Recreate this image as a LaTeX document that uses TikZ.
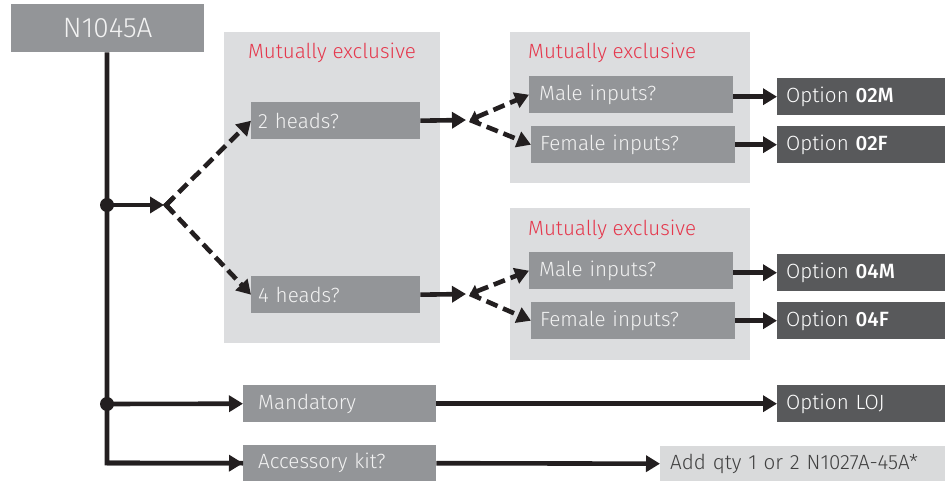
\documentclass[tikz,border=0pt]{standalone}
\usepackage{fontspec}
\setmainfont{Fira Sans}[UprightFont={* Light}, BoldFont={* Medium}]
\usetikzlibrary{arrows.meta,calc}
\definecolor{boxgrey}{HTML}{939598}
\definecolor{contgrey}{HTML}{DCDDDF}
\definecolor{darkopt}{HTML}{58595B}
\definecolor{mxred}{HTML}{E5384D}
\definecolor{linecol}{HTML}{231F20}
\definecolor{addgrey}{HTML}{D9DADB}
\definecolor{addtext}{HTML}{404040}
\tikzset{
  cont/.style={fill=contgrey, draw=none},
  qbox/.style={fill=boxgrey, text=white!95!black, anchor=north west, minimum height=37pt,
    inner ysep=0pt, align=left, font=\fontsize{20.6}{24}\selectfont},
  obox/.style={fill=darkopt, text=white, anchor=north west, minimum height=37pt,
    inner ysep=0pt, align=left, font=\fontsize{20.6}{24}\selectfont},
  mxlabel/.style={text=mxred, font=\fontsize{20.6}{24}\selectfont, inner sep=0pt},
  conn/.style={draw=linecol, line width=4.6pt, -{Triangle[length=14pt,width=16pt]}},
  dconn/.style={draw=linecol, line width=4.6pt, dash pattern=on 12pt off 6pt, -{Triangle[length=14pt,width=16pt]}},
  trunk/.style={draw=linecol, line width=4.6pt},
  jdot/.style={circle, fill=linecol, inner sep=0pt, minimum size=14pt},
}
\begin{document}
\begin{tikzpicture}[x=1pt,y=-1pt]
\useasboundingbox (0,0) rectangle (951,481);
% containers
\fill[cont] (224,32) rectangle (440,343);
\fill[cont] (510,32) rectangle (750,183);
\fill[cont] (510,208) rectangle (750,360);
\node[mxlabel, anchor=base] (mx1) at (332,59) {Mutually exclusive};
\node[mxlabel, anchor=base west] (mx2) at (528,59) {Mutually exclusive};
\node[mxlabel, anchor=base west] (mx3) at (528,236) {Mutually exclusive};
% top node
\node[fill=boxgrey, text=white!95!black, anchor=north west, minimum width=193pt, minimum height=48pt,
  inner sep=0pt, font=\fontsize{28}{32}\selectfont] (top) at (11,4) {N1045A};
% question boxes
\node[qbox, inner xsep=7pt, text width=155pt] (h2) at (251,102) {2 heads?};
\node[qbox, inner xsep=7pt, text width=155pt] (h4) at (251,276) {4 heads?};
\node[qbox, inner xsep=10pt, text width=184pt] (m2) at (529,76) {Male inputs?};
\node[qbox, inner xsep=9pt, text width=186pt] (f2) at (531,126) {Female inputs?};
\node[qbox, inner xsep=10pt, text width=184pt] (m4) at (529,252) {Male inputs?};
\node[qbox, inner xsep=9pt, text width=186pt] (f4) at (531,302) {Female inputs?};
\node[qbox, inner xsep=15pt, text width=163pt] (mand) at (243,385) {Mandatory};
\node[qbox, inner xsep=15pt, text width=163pt, minimum height=36pt] (acc) at (243,445) {Accessory kit?};
% option boxes
\node[obox, inner xsep=9pt, text width=150pt] (o2m) at (777,78) {Option \textbf{02M}};
\node[obox, inner xsep=9pt, text width=150pt] (o2f) at (777,126) {Option \textbf{02F}};
\node[obox, inner xsep=9pt, text width=150pt] (o4m) at (777,254) {Option \textbf{04M}};
\node[obox, inner xsep=9pt, text width=150pt] (o4f) at (777,302) {Option \textbf{04F}};
\node[obox, inner xsep=9pt, text width=150pt] (loj) at (777,385) {Option LOJ};
\node[fill=addgrey, text=addtext, anchor=north west, minimum height=35pt, inner ysep=0pt,
  inner xsep=10pt, text width=265pt, align=left, font=\fontsize{20.6}{24}\selectfont] (add) at (660,446) {Add qty 1 or 2 N1027A-45A*};
% junctions
\coordinate (j1) at (107,205);
\coordinate (j2) at (107,404);
\coordinate (j3) at (107,463);
\coordinate (v1) at (166,205);
\coordinate (v2) at (470,120);
\coordinate (v4) at (470,294);
\coordinate (t1) at (164,205);
\coordinate (t2) at (466,120);
\coordinate (t4) at (466,294);
% trunk
\draw[trunk, line join=miter] (top.south -| j1) -- (j3) -- (acc.west);
\draw[conn] (j3) -- (acc.west);
\node[jdot] (d1) at (j1) {};
\node[jdot] (d2) at (j2) {};
\draw[conn] (j1) -- (t1);
\draw[conn] (j2) -- (mand.west);
% dashed splits
\draw[dconn] (v1) -- (h2.west);
\draw[dconn] (v1) -- (h4.west);
\draw[trunk, line join=miter] ($(v1)!10pt!(h2.west)$) -- (v1) -- ($(v1)!10pt!(h4.west)$);
\draw[conn] (h2.east) -- (t2);
\draw[conn] (h4.east) -- (t4);
\draw[dconn, {Triangle[length=8pt,width=13pt]}-{Triangle[length=14pt,width=16pt]}] (v2) -- (m2.west);
\draw[dconn] (v2) -- (f2.west);
\draw[dconn, {Triangle[length=8pt,width=13pt]}-{Triangle[length=14pt,width=16pt]}] (v4) -- (m4.west);
\draw[dconn] (v4) -- (f4.west);
% to options
\draw[conn] (m2.east |- o2m.west) -- (o2m.west);
\draw[conn] (f2.east |- o2f.west) -- (o2f.west);
\draw[conn] (m4.east |- o4m.west) -- (o4m.west);
\draw[conn] (f4.east |- o4f.west) -- (o4f.west);
\draw[conn] (mand.east) -- (loj.west);
\draw[conn] (acc.east) -- (add.west);
\end{tikzpicture}
\end{document}
